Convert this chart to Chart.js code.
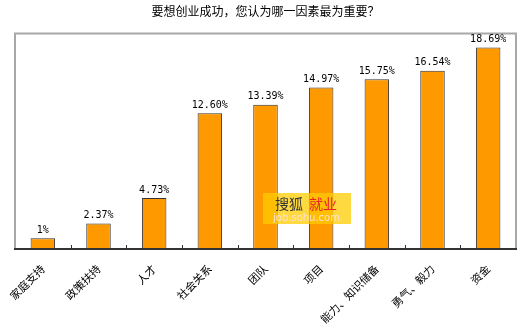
<!DOCTYPE html>
<html><head><meta charset="utf-8">
<script src="https://cdn.jsdelivr.net/npm/chart.js@4.4.0/dist/chart.umd.min.js"></script>
<style>html,body{margin:0;padding:0;background:#fff}canvas{display:block}</style>
</head><body>
<canvas id="c" width="520" height="324"></canvas>
<script>
const titleText = '要想创业成功，您认为哪一因素最为重要？';
const categories = ['家庭支持','政策扶持','人才','社会关系','团队','项目','能力、知识储备','勇气、毅力','资金'];
const values = [1, 2.37, 4.73, 12.60, 13.39, 14.97, 15.75, 16.54, 18.69];
const valueLabels = ['1%','2.37%','4.73%','12.60%','13.39%','14.97%','15.75%','16.54%','18.69%'];

const cjk = '"Noto Sans CJK SC", "Noto Sans", sans-serif';

const framePlugin = {
  id: 'frame',
  beforeDatasetsDraw(chart) {
    const {ctx, chartArea: a} = chart;
    ctx.save();
    ctx.strokeStyle = '#a8a8a8';
    ctx.lineWidth = 2;
    ctx.beginPath();
    ctx.moveTo(a.left, a.bottom);
    ctx.lineTo(a.left, a.top);
    ctx.lineTo(a.right, a.top);
    ctx.lineTo(a.right, a.bottom);
    ctx.stroke();
    const xs = chart.scales.x;
    ctx.strokeStyle = '#333';
    ctx.lineWidth = 1;
    for (let i = 1; i < categories.length; i++) {
      const x = Math.round((xs.getPixelForValue(i - 1) + xs.getPixelForValue(i)) / 2) + 0.5;
      ctx.beginPath();
      ctx.moveTo(x, a.bottom);
      ctx.lineTo(x, a.bottom - 4);
      ctx.stroke();
    }
    ctx.restore();
  },
  afterDatasetsDraw(chart) {
    const {ctx, chartArea: a} = chart;
    ctx.save();
    ctx.strokeStyle = '#333';
    ctx.lineWidth = 2;
    ctx.beginPath();
    ctx.moveTo(a.left - 1, a.bottom);
    ctx.lineTo(a.right + 1, a.bottom);
    ctx.stroke();
    const meta = chart.getDatasetMeta(0);
    ctx.fillStyle = '#000';
    ctx.font = '10px "DejaVu Sans Mono", monospace';
    ctx.textAlign = 'center';
    ctx.textBaseline = 'bottom';
    meta.data.forEach((bar, i) => {
      ctx.fillText(valueLabels[i], bar.x, bar.y - 3);
    });
    // watermark
    ctx.fillStyle = 'rgba(255, 204, 0, 0.75)';
    ctx.fillRect(263, 193, 88, 31);
    ctx.textAlign = 'left';
    ctx.textBaseline = 'alphabetic';
    ctx.font = '14px ' + cjk;
    ctx.fillStyle = '#333';
    ctx.fillText('搜狐', 275, 209);
    ctx.fillStyle = '#e8202a';
    ctx.fillText('就业', 309, 209);
    ctx.font = '10px "DejaVu Sans", sans-serif';
    ctx.fillStyle = '#ffe0d8';
    ctx.fillText('job.sohu.com', 273, 221);
    ctx.restore();
  }
};

new Chart(document.getElementById('c'), {
  type: 'bar',
  data: {
    labels: categories,
    datasets: [{
      data: values,
      backgroundColor: '#ff9900',
      borderColor: '#333333',
      borderWidth: 1,
      categoryPercentage: 1,
      barPercentage: 0.44
    }]
  },
  options: {
    responsive: false,
    animation: false,
    layout: { padding: { left: 15, right: 4, top: 0, bottom: 0 } },
    plugins: {
      legend: { display: false },
      tooltip: { enabled: false },
      title: {
        display: true,
        text: titleText,
        color: '#000',
        font: { family: cjk, size: 12, weight: 'normal' },
        padding: { top: 4, bottom: 15 }
      }
    },
    scales: {
      y: {
        display: false,
        min: 0,
        max: 20
      },
      x: {
        grid: { display: false },
        border: { display: false },
        ticks: {
          color: '#000',
          font: { family: cjk, size: 11 },
          minRotation: 45,
          maxRotation: 45,
          padding: 5
        },
        afterFit(scale) { scale.height = 75; }
      }
    }
  },
  plugins: [framePlugin]
});
</script>
</body></html>
